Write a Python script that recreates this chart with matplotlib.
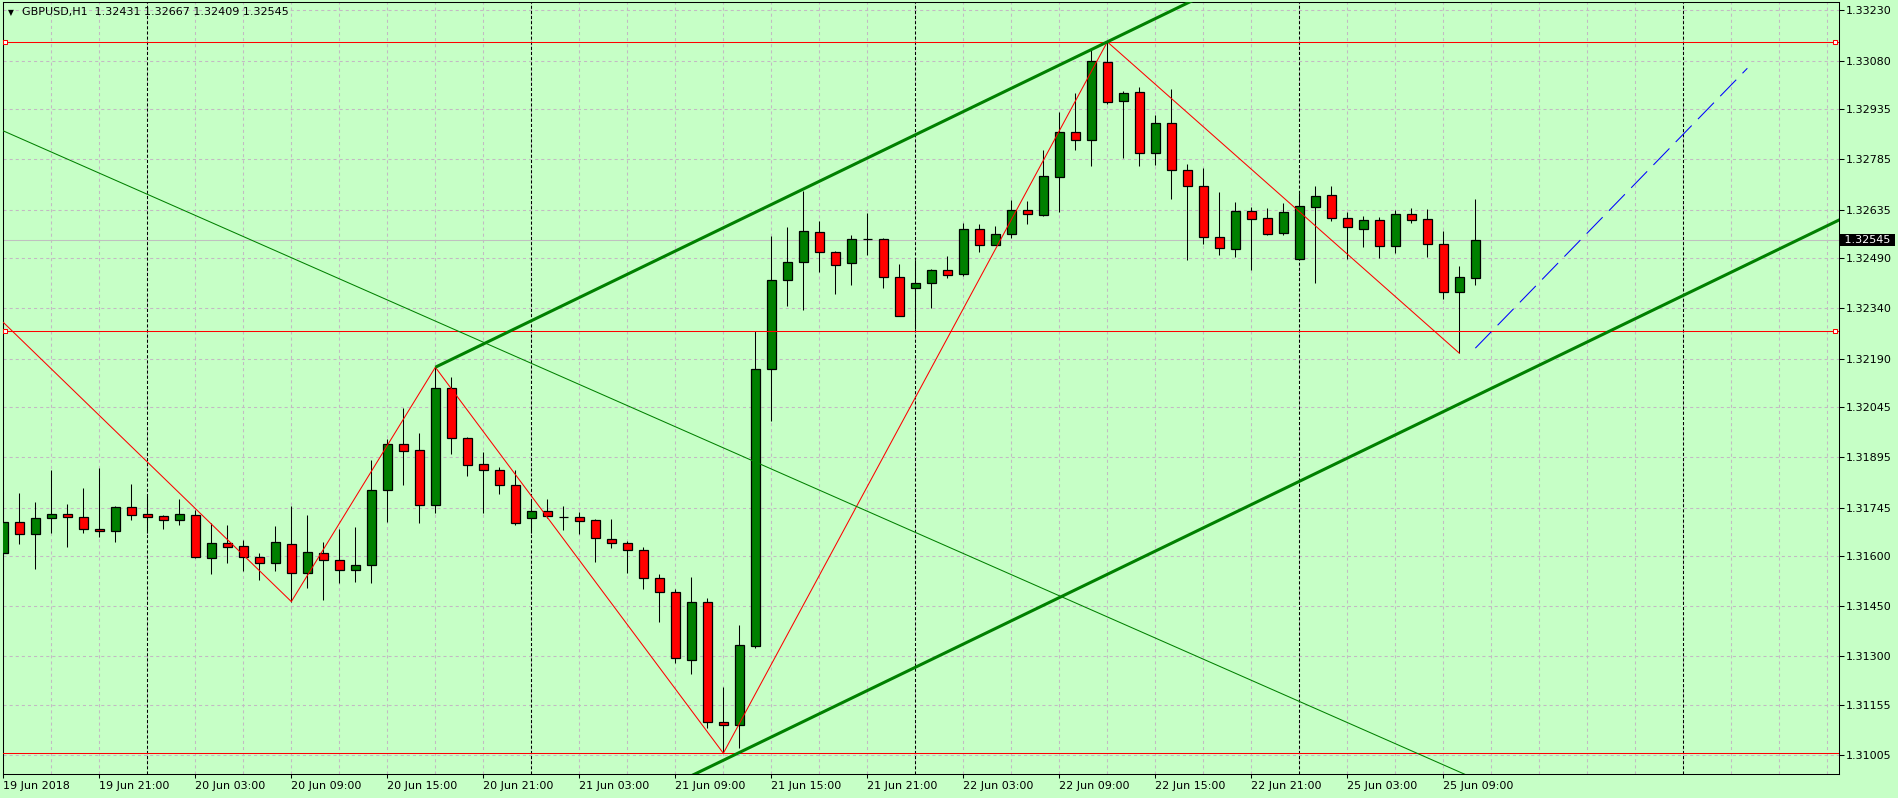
import numpy as np
import pandas as pd
import matplotlib
matplotlib.use('Agg')
import matplotlib.pyplot as plt
from matplotlib.patches import Rectangle

plt.rcParams['font.family'] = ['DejaVu Sans']
plt.rcParams['lines.scale_dashes'] = False

symbol = 'GBPUSD,H1'

# H1 bars, weekend skipped
times = pd.date_range('2018-06-19 15:00', '2018-06-22 23:00', freq='h').append(
    pd.date_range('2018-06-25 00:00', '2018-06-25 11:00', freq='h'))
future = pd.date_range('2018-06-25 12:00', periods=24, freq='h')

opens = [1.31608, 1.31701, 1.31665, 1.31713, 1.31725, 1.31716, 1.31680, 1.31674, 1.31746, 1.31725,
         1.31719, 1.31707, 1.31722, 1.31593, 1.31638, 1.31629, 1.31596, 1.31578, 1.31635, 1.31549,
         1.31608, 1.31587, 1.31558, 1.31572, 1.31797, 1.31934, 1.31916, 1.31752, 1.32101, 1.31952,
         1.31874, 1.31856, 1.31811, 1.31713, 1.31734, 1.31718, 1.31716, 1.31707, 1.31650, 1.31638,
         1.31617, 1.31534, 1.31492, 1.31289, 1.31462, 1.31104, 1.31095, 1.31330, 1.32158, 1.32424,
         1.32477, 1.32567, 1.32507, 1.32474, 1.32547, 1.32547, 1.32435, 1.32402, 1.32417, 1.32454,
         1.32444, 1.32576, 1.32530, 1.32563, 1.32633, 1.32618, 1.32731, 1.32866, 1.32842, 1.33075,
         1.32958, 1.32985, 1.32803, 1.32893, 1.32752, 1.32705, 1.32552, 1.32516, 1.32630, 1.32609,
         1.32564, 1.32486, 1.32642, 1.32678, 1.32609, 1.32576, 1.32603, 1.32525, 1.32621, 1.32606,
         1.32531, 1.32388, 1.32431]
highs = [1.31792, 1.31788, 1.31762, 1.31857, 1.31756, 1.31802, 1.31862, 1.31750, 1.31815, 1.31785,
         1.31722, 1.31770, 1.31737, 1.31698, 1.31692, 1.31647, 1.31608, 1.31689, 1.31749, 1.31722,
         1.31641, 1.31680, 1.31686, 1.31887, 1.31949, 1.32042, 1.31967, 1.32164, 1.32135, 1.31955,
         1.31910, 1.31865, 1.31856, 1.31768, 1.31771, 1.31750, 1.31731, 1.31710, 1.31710, 1.31644,
         1.31626, 1.31546, 1.31501, 1.31537, 1.31474, 1.31210, 1.31393, 1.32272, 1.32555, 1.32583,
         1.32689, 1.32601, 1.32511, 1.32558, 1.32624, 1.32550, 1.32472, 1.32485, 1.32457, 1.32497,
         1.32596, 1.32591, 1.32587, 1.32663, 1.32661, 1.32813, 1.32926, 1.32983, 1.33114, 1.33136,
         1.32988, 1.33000, 1.32917, 1.32995, 1.32770, 1.32758, 1.32687, 1.32657, 1.32642, 1.32639,
         1.32654, 1.32684, 1.32705, 1.32705, 1.32627, 1.32615, 1.32612, 1.32633, 1.32639, 1.32636,
         1.32570, 1.32466, 1.32667]
lows = [1.31509, 1.31637, 1.31562, 1.31670, 1.31628, 1.31670, 1.31658, 1.31643, 1.31707, 1.31670,
        1.31682, 1.31694, 1.31593, 1.31547, 1.31580, 1.31556, 1.31529, 1.31556, 1.31464, 1.31506,
        1.31470, 1.31520, 1.31523, 1.31520, 1.31703, 1.31813, 1.31700, 1.31730, 1.31906, 1.31838,
        1.31730, 1.31786, 1.31694, 1.31670, 1.31713, 1.31679, 1.31667, 1.31583, 1.31625, 1.31550,
        1.31501, 1.31404, 1.31282, 1.31247, 1.31087, 1.31011, 1.31026, 1.31326, 1.32002, 1.32346,
        1.32334, 1.32449, 1.32384, 1.32411, 1.32499, 1.32401, 1.32316, 1.32278, 1.32341, 1.32431,
        1.32437, 1.32509, 1.32528, 1.32551, 1.32593, 1.32616, 1.32629, 1.32814, 1.32764, 1.32949,
        1.32788, 1.32764, 1.32767, 1.32667, 1.32483, 1.32531, 1.32498, 1.32492, 1.32454, 1.32558,
        1.32558, 1.32483, 1.32415, 1.32600, 1.32486, 1.32522, 1.32489, 1.32504, 1.32594, 1.32492,
        1.32367, 1.32206, 1.32409]
closes = [1.31703, 1.31665, 1.31713, 1.31725, 1.31716, 1.31680, 1.31674, 1.31746, 1.31722, 1.31716,
          1.31707, 1.31725, 1.31596, 1.31638, 1.31626, 1.31596, 1.31578, 1.31641, 1.31549, 1.31611,
          1.31587, 1.31558, 1.31572, 1.31797, 1.31934, 1.31913, 1.31752, 1.32101, 1.31952, 1.31871,
          1.31856, 1.31811, 1.31700, 1.31734, 1.31719, 1.31718, 1.31704, 1.31653, 1.31638, 1.31617,
          1.31534, 1.31492, 1.31295, 1.31462, 1.31104, 1.31095, 1.31334, 1.32158, 1.32424, 1.32477,
          1.32570, 1.32507, 1.32470, 1.32547, 1.32547, 1.32435, 1.32316, 1.32417, 1.32454, 1.32441,
          1.32576, 1.32530, 1.32563, 1.32633, 1.32621, 1.32734, 1.32866, 1.32842, 1.33078, 1.32955,
          1.32982, 1.32803, 1.32893, 1.32752, 1.32705, 1.32552, 1.32519, 1.32630, 1.32606, 1.32561,
          1.32627, 1.32645, 1.32675, 1.32609, 1.32582, 1.32603, 1.32525, 1.32621, 1.32603, 1.32531,
          1.32388, 1.32433, 1.32545]

price_ticks = [1.31005, 1.31155, 1.31300, 1.31450, 1.31600, 1.31745, 1.31895, 1.32045,
               1.32190, 1.32340, 1.32490, 1.32635, 1.32785, 1.32935, 1.33080, 1.33230]

# zigzag swing points (bar index, price)
zz_bars = [0, 18, 27, 45, 69, 91]
zz_prices = [1.32298, lows[18], highs[27], lows[45], highs[69], lows[91]]

# objects
hline_top = highs[69]
hline_mid = 1.32272
hline_low = lows[45]
lower_chan_price = 1.30990   # lower channel line at bar 45
thin_pts = [(0, 1.32870), (100, 1.30766)]
blue_pts = [(92, 1.32221), (109, 1.33057)]

bg = '#c6ffc6'
gridc = '#c3b9c3'
bull = '#008000'
bear = '#ff0000'

W, H = 1898, 798
fig = plt.figure(figsize=(W / 100, H / 100), dpi=100, facecolor=bg)
ax = fig.add_axes([3 / W, 1 - 774 / H, (1838.7 - 3) / W, (774 - 2) / H], facecolor=bg)
ax.set_xlim(-0.02, 114.71)
ax.set_ylim(1.30949, 1.33255)

n = len(opens)
x = np.arange(n)

# grid
for p in price_ticks:
    ax.axhline(p, color=gridc, lw=0.75, dashes=(2.2, 2.2), zorder=0)
for b in range(0, 115, 3):
    ax.axvline(b, color=gridc, lw=0.75, dashes=(2.2, 2.2), zorder=0)

# day separators
all_times = times.append(future)
seps = [i for i, t in enumerate(all_times) if t.hour == 0]
for b in seps:
    ax.axvline(b, color='black', lw=0.75, dashes=(2.2, 1.5), zorder=0.5)

# bid line
ax.axhline(closes[-1], color='#c0c0c0', lw=0.75, zorder=1)

# candles
ax.vlines(x, lows, highs, color='black', lw=0.75, zorder=2)
bw = 0.5625
for i in range(n):
    o, c = opens[i], closes[i]
    if c > o:
        fc = bull
    elif c < o:
        fc = bear
    else:
        fc = 'black'
    ax.add_patch(Rectangle((i - bw / 2, min(o, c)), bw, abs(c - o),
                           facecolor=fc, edgecolor='black', lw=0.9, zorder=3))

# horizontal lines
for p in [hline_top, hline_mid, hline_low]:
    ax.axhline(p, color='red', lw=0.75, zorder=4)
for p in [hline_top, hline_mid]:
    ax.plot([0.1, 114.5], [p, p], 's', ms=3.3, mfc='white', mec='red', mew=0.75, zorder=6)

# zigzag
ax.plot(zz_bars, zz_prices, color='red', lw=0.75, zorder=5)

# channel
slope = (highs[69] - highs[27]) / (69 - 27)
xu = np.array([27, 116])
ax.plot(xu, highs[27] + slope * (xu - 27), color=bull, lw=2.2, zorder=5, solid_capstyle='butt')
xl = np.array([35, 116])
ax.plot(xl, lower_chan_price + slope * (xl - 45), color=bull, lw=2.2, zorder=5, solid_capstyle='butt')

# thin trend line
(b0, p0), (b1, p1) = thin_pts
xt = np.array([-1, 110])
ax.plot(xt, p0 + (p1 - p0) / (b1 - b0) * (xt - b0), color=bull, lw=0.75, zorder=5)

# projection
ax.plot([blue_pts[0][0], blue_pts[1][0]], [blue_pts[0][1], blue_pts[1][1]],
        color='#0000ff', lw=0.75, dashes=(16.5, 6.5), zorder=5)

# axes styling
for s in ax.spines.values():
    s.set_color('black')
    s.set_linewidth(0.75)
ax.yaxis.tick_right()
ax.set_yticks(price_ticks)
ax.set_yticklabels(['%.5f' % p for p in price_ticks])
ax.tick_params(axis='y', length=3.6, width=0.75, pad=1.5, labelsize=8, colors='black')

lab_pos = list(range(0, n, 6))
lab_txt = []
for i in lab_pos:
    t = times[i]
    lab_txt.append(t.strftime('%d %b %Y') if i == 0 else t.strftime('%d %b %H:%M'))
ax.set_xticks(lab_pos)
ax.set_xticklabels(lab_txt, ha='left')
ax.tick_params(axis='x', length=2.9, width=0.75, pad=2, labelsize=8, colors='black')

# header
fig.text(11 / W, 1 - 12.5 / H, '\u25bc', fontsize=5.5, ha='center', va='center')
fig.text(21.7 / W, 1 - 12.5 / H,
         '%s  %.5f %.5f %.5f %.5f' % (symbol, opens[-1], highs[-1], lows[-1], closes[-1]),
         fontsize=8, ha='left', va='center')

# bid label
ax.annotate(' %.5f ' % closes[-1], xy=(1, closes[-1]), xycoords=('axes fraction', 'data'),
            xytext=(2.0, 0), textcoords='offset points', ha='left', va='center',
            fontsize=8, color='white',
            bbox=dict(boxstyle='square,pad=0.1', fc='black', ec='none'),
            annotation_clip=False, zorder=10)

fig.savefig('out.png', dpi=100, facecolor=bg)
